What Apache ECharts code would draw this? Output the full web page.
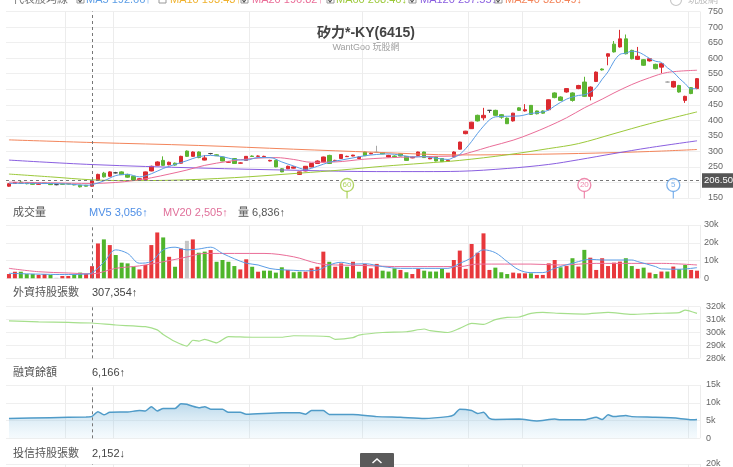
<!DOCTYPE html>
<html><head><meta charset="utf-8">
<script src="https://cdn.jsdelivr.net/npm/echarts@6/dist/echarts.min.js"></script>
<style>html,body{margin:0;padding:0;background:#fff}#c{width:733px;height:467px}</style>
</head><body><div id="c"></div>
<script>
// ---------- data ----------
const opens = [188,197,201,199,198,194,198,196,193,195.5,
196,194,191,191,188,207,230,220,231,234,
226,220,207,210,237,255,271,257,262,262,
301,284,298,272,293,289,282,265,277,262,
271,285,284,283,269,271,244,244,246,226,
237,250,261,266,287,270,277,283,285,277,
298,292,297,296,282,285,292,284,279,287,
298,276,282,277,268,282,307,357,373,416,
408,432,432,418,407,398,440,430,448,430,
430,434,488,475,491,488,502,523,477,525,
565,606,645,636,662,625,596,595,591,580,
571,523,507,512,464,505,502];
const closes = [196,200,197,196,194,196,196.5,193,193,194,
195,192,186,188,205,226,218,234,231,225,
217,207,212,234,252,266,255,265,256,284,
284,298,280,279,293,286,269,266,261,263,
284,283.5,285,284,271,250,234,252,250,234,
252,261,269,282,261,271,290,284,288,282,
286,294,297,292,287,283,285,271,281,298,
280,279,269,267,271,298,330,365,394,398,
416,432,416,410,389,423,432,434,419,421,
423,466,473,464,502,464,512,477,507,555,
562,614,620,662,614,598,606,577,598,566,
582,523,525,491,477,486,534];
const lows = [186,195,195,194,193,193,195,192,191,193,
194,191,184,187,187,206,216,218,229,224,
215,205,205,209,236,254,253,255,254,261,
282,283,278,271,290,285,268,264,260,261,
270,282,283,282,268,249,233,243,245,224,
236,249,260,265,260,268,276,282,284,276,
285,291,295,291,281,282,284,270,278,286,
279,275,268,266,267,281,306,355,372,396,
400,424,414,405,388,396,430,428,417,419,
421,432,471,462,489,460,500,475,464,523,
560,577,618,634,612,596,594,575,589,564,
552,521,505,489,456,484,500];
const highs = [198,202,205,200,199,197,199,197,195,196,
197,195,192,192,207,228,234,236,234,236,
228,221,214,235,254,268,284,267,264,286,
303,300,300,288,295,291,283,268,278,265,
285,287,287,286,273,273,246,254,252,235,
253,262,271,283,289,273,291,286,289,284,
299,296,318,298,289,287,293,285,283,299,
299,281,283,278,273,300,331,366,395,418,
440,433,434,420,409,424,442,452,449,431,
432,467,490,477,503,490,514,540,509,557,
567,615,655,691,676,627,636,597,600,582,
584,526,527,514,479,507,536];
const volumes = [2400,3700,3700,2400,2400,1900,2400,1900,300,1300,
1300,1900,3200,2400,6836,19600,21900,18700,13100,8800,
8400,6500,5000,7500,18700,25800,23000,12100,6500,16800,
21100,21900,14400,15000,15900,9300,10300,9300,6900,5000,
10700,6500,3700,4300,4300,3200,6200,4700,3400,3700,
3700,5600,6500,15000,9300,6500,8400,6500,9300,3700,
8100,5600,8100,4300,3800,5600,4700,3400,2400,5300,
4300,3800,3800,5300,3200,10300,15600,5300,19300,14400,
25300,4700,6000,3400,2400,3200,2800,2800,2800,1900,
1900,8400,10300,6200,6900,11300,6600,16000,11600,4700,
11300,6900,8800,9400,11300,6900,5300,6000,3200,2400,
3800,3800,6600,5100,7500,4700,4300];
const categories = closes.map((_, i) => String(i + 1));

const ma5 = [[0,197],[5,197],[10,195],[13,191],[14,192.7],[16,205],[18,222],[20,226],[22,218],[24,228],[26,245],[28,258],[30,270],[32,283],[34,287],[36,283],[38,274],[40,272],[42,280],[44,280],[46,266],[48,253],[50,242],[52,252],[54,265],[56,272],[58,279],[60,286],[62,290],[64,292],[66,288],[68,282],[70,283],[72,278],[74,274],[75,281],[76,290],[77,309],[78,332],[79,358],[80,381],[81,401],[82,411],[84,413],[86,414],[88,422],[90,427],[91,433],[92,446],[94,468],[96,480],[97,482],[98,490],[99,505],[100,532],[101,556],[102,590],[103,612],[104,616],[105,622],[106,620],[107,611],[108,599],[109,590],[110,586],[111,569],[112,555],[113,535],[114,518],[115,501],[116,503]];
const ma20 = [[0,201],[7,199],[14,196.8],[18,200],[21,206],[24,215],[27,227],[30,240],[33,255],[37,268],[41,277],[45,280],[48,274],[51,265],[55,266],[60,275],[66,281],[72,284],[75,285],[78,298],[81,315],[85,336],[88,357],[91,381],[94,408],[97,440],[100,468],[102,488],[105,515],[108,537],[111,554],[116,561]];
const ma60 = [[0,227],[7,218],[14,208.5],[20,206],[27,207],[38,215.5],[49,230],[56,240],[63,252],[70,262],[76,271],[84,289],[91,309],[96,325],[102,357],[108,389],[116,427]];
const ma120 = [[0,272],[14,257.6],[32,246.5],[49,239],[62,235],[70,235],[76,236],[84,245],[91,258],[96,273],[102,293],[108,312],[116,334]];
const ma240 = [[0,337],[14,328.5],[32,319],[48,307],[62,297],[76,288.5],[90,291],[102,296],[110,301],[116,306]];
const mv5 = [[0,2800],[10,2100],[13,2400],[14,3056],[16,9000],[18,16000],[20,14000],[22,8500],[24,9500],[26,16000],[28,17500],[30,16000],[32,16500],[34,17500],[36,14000],[38,11000],[40,8500],[42,7500],[44,5500],[46,4800],[48,4500],[50,4200],[52,4600],[54,7500],[56,9000],[58,8000],[60,8200],[63,6600],[66,5600],[74,5600],[76,8400],[78,11500],[80,16000],[82,14400],[84,9400],[86,4700],[88,3200],[90,3200],[92,5600],[96,9400],[98,10700],[100,10300],[105,10300],[106,9400],[109,6600],[110,5300],[113,5100],[116,6000]];
const mv20 = [[0,5600],[5,3700],[10,3000],[14,2505],[18,5600],[22,7000],[26,9300],[30,12000],[33,14000],[38,14000],[43,14000],[48,12100],[52,8400],[55,7500],[60,7200],[65,6600],[76,6600],[79,8000],[88,8000],[93,7500],[99,8400],[105,8400],[110,8400],[116,7500]];
const foreign = [[0,309000],[5,308300],[10,307800],[14,307354],[18,305800],[23,304500],[25,302000],[26,298500],[28,293000],[30,289500],[31,294000],[32,293300],[33,294700],[35,292000],[37,296800],[41,296300],[46,296300],[48,297500],[54,296800],[55,294700],[58,296000],[59,298000],[63,300000],[67,300600],[70,302700],[71,301400],[74,300000],[76,303200],[78,307000],[80,306300],[82,310000],[84,311700],[86,312000],[88,314800],[90,315600],[93,314800],[97,314300],[101,315600],[105,314000],[109,314800],[113,315400],[114,317400],[116,314800]];
const margin = [[0,5600],[7,5800],[13,6000],[14,6166],[15,7500],[16,6600],[17,7300],[20,7400],[22,7800],[23,7700],[24,8900],[25,7700],[26,8400],[28,8400],[29,9700],[30,9600],[31,9000],[32,8600],[33,8900],[34,8200],[36,8200],[37,7300],[39,7300],[40,6800],[46,7200],[49,7200],[50,6800],[51,7800],[53,7800],[54,6700],[58,6700],[62,6100],[66,5900],[70,5600],[74,6100],[75,6600],[76,8200],[78,7800],[79,7000],[80,7300],[81,5600],[82,5300],[86,5400],[89,4900],[92,5400],[93,5200],[97,5200],[99,5900],[100,5300],[101,6600],[102,6100],[104,6400],[105,6100],[109,5900],[113,5600],[115,5200],[116,5300]];
const crossIndex = 14;
const crossPrice = 206.5;
const markerIdx = [57, 97, 112];
const markerText = ['60', '20', '5'];
const monthLines = [10, 18, 41, 60, 78, 87, 115];
const mainTicks = [150, 750, 50];
const maLegend = [['MA5','192.66','↑'],['MA10','193.43','↑'],['MA20','196.82','↑'],['MA60','208.46','↓'],['MA120','257.55','↓'],['MA240','328.49','↓']];
const volLegend = ['MV5 3,056↑', 'MV20 2,505↑', '量 6,836↑'];
const panelLegend = [['外資持股張數','307,354↑'],['融資餘額','6,166↑'],['投信持股張數','2,152↓']];

// ---------- styles ----------
const UP = '#db2a30', DN = '#5cb533', UPV = '#e8383c', DNV = '#4fb52b', FLATV = '#c6c6c6';
const C5 = '#5b9de6', C10 = '#f0b22e', C20 = '#ea6d98', C60 = '#9cc93a', C120 = '#8a5fe0', C240 = '#f3855b';
const FONT = "'Liberation Sans','Noto Sans CJK TC',sans-serif";
const grayDoji = [62, 111];

const grids = [
  {left: 6, right: 33, top: 11.5, height: 186.5},
  {left: 6, right: 33, top: 225, height: 53.3},
  {left: 6, right: 33, top: 306.7, height: 51.6},
  {left: 6, right: 33, top: 385, height: 53.3},
  {left: 6, right: 33, top: 464, height: 50}
];
const kfmt = v => v === 0 ? '0' : (v / 1000) + 'k';
function yax(i, min, max, interval, fmt, marginPx) {
  return {type: 'value', gridIndex: i, position: 'right', min, max, interval,
    axisLine: {show: false}, axisTick: {show: false},
    axisLabel: {fontSize: 9, color: '#666', margin: marginPx, fontFamily: FONT, formatter: fmt},
    splitLine: {lineStyle: {color: '#efefef'}}};
}
const vLine = {symbol: 'none', silent: true, animation: false,
  lineStyle: {color: '#777', type: [3, 3], width: 1}, label: {show: false},
  data: [{xAxis: categories[crossIndex]}]};

const candleData = opens.map((o, i) => {
  const item = {value: [o, closes[i], lows[i], highs[i]]};
  if (o === closes[i]) {
    const c = grayDoji.indexOf(i) >= 0 ? '#a8a8a8' : '#444';
    item.itemStyle = {color: c, color0: c, borderColor: c, borderColor0: c, borderColorDoji: c};
  }
  return item;
});
const volData = volumes.map((v, i) => {
  const prev = i > 0 ? closes[i - 1] : opens[i];
  const c = closes[i] > prev ? UPV : closes[i] < prev ? DNV : FLATV;
  return {value: v, itemStyle: {color: c}};
});
const mkColors = [C60, C20, C5];
const maLine = (data, color, gi) => ({type: 'line', xAxisIndex: gi, yAxisIndex: gi, data, showSymbol: false,
  smooth: 0.35, lineStyle: {color, width: 1}, silent: true, z: 3});

// ---------- graphic (text chrome) ----------
const g = [];
function txt(x, y, text, color, size, extra) {
  g.push({type: 'text', x, y, silent: true, z: 100,
    style: Object.assign({text, fill: color, fontSize: size, fontFamily: FONT, verticalAlign: 'middle', align: 'left'}, extra || {})});
}
txt(13, 0, '代表股均線', '#777', 11);
const boxX = [77, 159, 241, 327, 409, 495], labX = [86, 170, 252, 336, 420, 505];
const maCol = [C5, C10, C20, C60, C120, C240], checked = [1, 0, 1, 1, 1, 1];
maLegend.forEach((m, k) => {
  g.push({type: 'rect', x: boxX[k], y: -4, shape: {width: 7, height: 7}, style: {fill: '#fff', stroke: '#999', lineWidth: 1}, silent: true, z: 100});
  if (checked[k]) g.push({type: 'polyline', shape: {points: [[boxX[k] + 1.5, 0], [boxX[k] + 3, 2], [boxX[k] + 6, -2]]}, style: {stroke: '#555', lineWidth: 1.2, fill: null}, silent: true, z: 101});
  txt(labX[k], 0, m[0] + ' ' + m[1] + m[2], maCol[k], 11);
});
g.push({type: 'circle', shape: {cx: 676, cy: 0, r: 5.5}, style: {fill: 'none', stroke: '#c8c8c8', lineWidth: 1.2}, silent: true, z: 100});
txt(688, 0, '玩股網', '#bbb', 10);
txt(366, 33, '矽力*-KY(6415)', '#444', 14, {align: 'center', fontWeight: 'bold'});
txt(366, 47.5, 'WantGoo 玩股網', '#a0a0a0', 9, {align: 'center'});
txt(13, 212.5, '成交量', '#555', 11);
txt(89, 212.5, volLegend[0], '#4f8fe6', 11);
txt(163, 212.5, volLegend[1], '#e0709a', 11);
txt(238, 212.5, volLegend[2], '#555', 11);
const pY = [293.3, 373.3, 454];
panelLegend.forEach((p, k) => { txt(13, pY[k], p[0], '#555', 11); txt(92, pY[k], p[1], '#444', 11); });
g.push({type: 'rect', x: 360, y: 453, shape: {width: 34, height: 16, r: 1}, style: {fill: '#5a5a5a'}, silent: true, z: 100});
g.push({type: 'polyline', shape: {points: [[372.5, 463], [377, 459], [381.5, 463]]}, style: {stroke: '#fff', lineWidth: 1.5, fill: null}, silent: true, z: 101});

const option = {
  animation: false,
  backgroundColor: '#fff',
  grid: grids,
  xAxis: grids.map((_, i) => ({type: 'category', gridIndex: i, data: categories, boundaryGap: true,
    axisLine: {show: false}, axisTick: {show: false}, axisLabel: {show: false},
    splitLine: {show: true, interval: (idx) => monthLines.indexOf(idx) >= 0, lineStyle: {color: '#ececec'}}})),
  yAxis: [
    yax(0, mainTicks[0], mainTicks[1], mainTicks[2], v => v === 200 ? '' : String(v), 8),
    yax(1, 0, 30000, 10000, kfmt, 4),
    yax(2, 280000, 320000, 10000, kfmt, 6),
    yax(3, 0, 15000, 5000, kfmt, 6),
    yax(4, 0, 20000, 20000, kfmt, 6)
  ],
  series: [
    {type: 'candlestick', xAxisIndex: 0, yAxisIndex: 0, data: candleData, barWidth: 4, z: 2,
      itemStyle: {color: UP, color0: DN, borderColor: UP, borderColor0: DN, borderColorDoji: '#444', borderWidth: 1},
      markLine: {symbol: 'none', silent: true, animation: false,
        lineStyle: {color: '#777', type: [3, 3], width: 1}, label: {show: false},
        data: [{xAxis: categories[crossIndex]},
          {yAxis: crossPrice, label: {show: true, position: 'end', distance: 2, formatter: crossPrice.toFixed(2),
            color: '#fff', backgroundColor: '#555', padding: [3, 2, 2, 2], fontSize: 9.5, fontFamily: FONT}}]}},
    maLine(ma240, C240, 0), maLine(ma120, C120, 0), maLine(ma60, C60, 0), maLine(ma20, C20, 0), maLine(ma5, C5, 0),
    {type: 'scatter', xAxisIndex: 0, yAxisIndex: 0, silent: true, z: 6,
      data: markerIdx.map((ix, k) => ({value: [ix, 191.8], symbol: 'rect', symbolSize: [1.2, 7], symbolOffset: [0, 10],
        itemStyle: {color: mkColors[k]}}))},
    {type: 'scatter', xAxisIndex: 0, yAxisIndex: 0, silent: true, z: 7,
      data: markerIdx.map((ix, k) => ({value: [ix, 191.8], symbol: 'circle', symbolSize: 13,
        itemStyle: {color: '#fff', borderColor: mkColors[k], borderWidth: 1.3},
        label: {show: true, position: 'inside', formatter: markerText[k], color: mkColors[k], fontSize: 8, fontFamily: FONT}}))},
    {type: 'bar', xAxisIndex: 1, yAxisIndex: 1, data: volData, barWidth: 4, markLine: vLine},
    maLine(mv20, C20, 1), maLine(mv5, C5, 1),
    {type: 'line', xAxisIndex: 2, yAxisIndex: 2, data: foreign, showSymbol: false, smooth: 0.2,
      lineStyle: {color: '#a6df8c', width: 1.2}, markLine: vLine},
    {type: 'line', xAxisIndex: 3, yAxisIndex: 3, data: margin, showSymbol: false, smooth: 0.2,
      lineStyle: {color: '#4f9bc8', width: 1.5},
      areaStyle: {color: new echarts.graphic.LinearGradient(0, 0, 0, 1, [
        {offset: 0, color: 'rgba(95,165,208,0.6)'}, {offset: 1, color: 'rgba(200,230,245,0.25)'}])},
      markLine: vLine},
    {type: 'line', xAxisIndex: 4, yAxisIndex: 4, data: [], markLine: vLine}
  ],
  graphic: g
};
const chart = echarts.init(document.getElementById('c'));
chart.setOption(option);
</script></body></html>
